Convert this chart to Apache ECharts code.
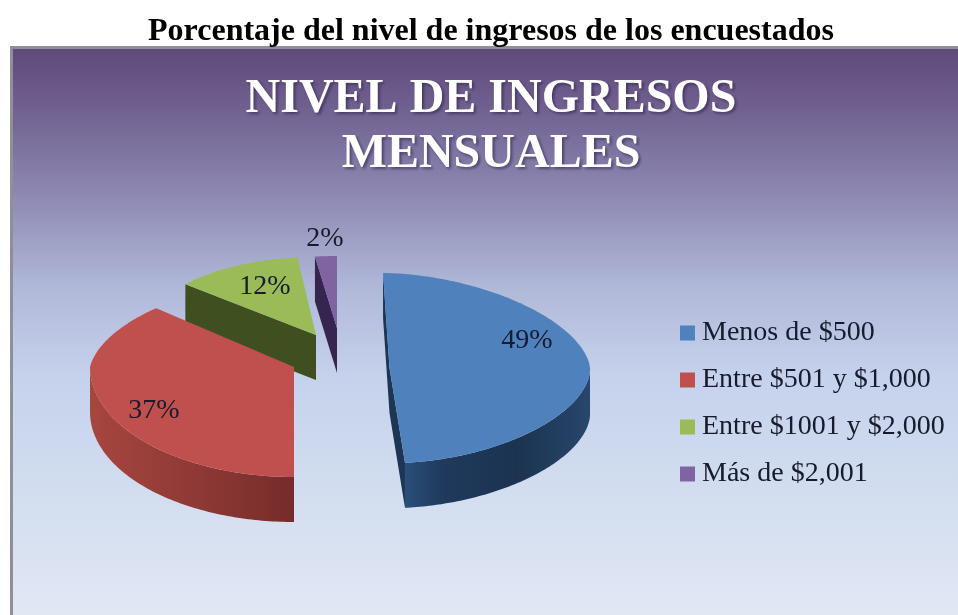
<!DOCTYPE html>
<html><head><meta charset="utf-8">
<style>html,body{margin:0;padding:0;background:#fff}#c{width:958px;height:615px}</style>
<script src="https://cdn.jsdelivr.net/npm/echarts@6/dist/echarts.min.js"></script>
</head><body><div id="c"></div>
<script>
const categories = ['Menos de $500','Entre $501 y $1,000','Entre $1001 y $2,000','Más de $2,001'];
const values = [49,37,12,2];
const pageTitle = 'Porcentaje del nivel de ingresos de los encuestados';
const chartTitle = 'NIVEL DE INGRESOS\nMENSUALES';

const colors = ['#4f81bd','#c0504d','#9bbb59','#8064a2'];
const depth = 45;
// Per-slice projection of the exploded, tilted pie
const layout = [
  {cx:389.5,cy:368,rx:200.5,ryB:95,ryF:95,rot:0,pow:1.12,shear:0.068,lx:527,ly:341,z:4,face:'both',
   side:[[0,'#2a4f7a'],[0.2,'#1f3a5c'],[0.6,'#1c3350'],[1,'#27476c']],faceColor:'#1d3655'},
  {cx:294,cy:367,rx:204,rxB:182,ryB:86,ryF:110,rot:3.6,lx:154,ly:411,z:3,
   side:[[0,'#a8453f'],[0.5,'#8f3a36'],[1,'#762c2a']]},
  {cx:316,cy:335,rx:172,ryB:78,ryF:78,rot:1,lx:265,ly:287,z:2,face:'start',faceColor:'#3f4f20'},
  {cx:337,cy:328,rx:176,ryB:72,ryF:72,rot:0,lx:325,ly:239,z:2,face:'start',faceColor:'#36264f'}
];

const total = values.reduce((a,b)=>a+b,0);
const starts = values.map((_,i)=>values.slice(0,i).reduce((a,b)=>a+b,0)/total*360);
const ink = '#161b2e';

function proj(l,deg){
  const a = deg*Math.PI/180, c0 = Math.cos(a), s0 = Math.sin(a), p = l.pow||1;
  const c = Math.sign(c0)*Math.pow(Math.abs(c0),p), s = Math.sign(s0)*Math.pow(Math.abs(s0),p);
  const rx = l.rxB!==undefined ? l.rx+(l.rxB-l.rx)*Math.max(0,c) : l.rx;
  const dy = c*(c>=0?l.ryB:l.ryF);
  return [l.cx + rx*s - (l.shear||0)*dy, l.cy - dy];
}
function arc(l,a0,a1){
  const p=[], n=Math.max(2,Math.ceil(Math.abs(a1-a0)));
  for(let k=0;k<=n;k++) p.push(proj(l,a0+(a1-a0)*k/n));
  return p;
}
const down = pts => pts.map(p=>[p[0],p[1]+depth]);

function makeSeries(i){
  const l = layout[i];
  return {
    type:'custom', name:categories[i], coordinateSystem:'none', z:l.z,
    itemStyle:{color:colors[i]}, silent:true, clip:false,
    data:[[values[i]]],
    renderItem:(params,api)=>{
      const v = api.value(0);
      const a0 = starts[i]+l.rot, a1 = a0+v/total*360;
      const apex = [l.cx,l.cy];
      const kids = [];
      const poly = (points,fill)=>({type:'polygon',shape:{points},style:{fill}});
      const s = proj(l,a0), e = proj(l,a1);
      if(l.face==='start') kids.push(poly([s,apex,...down([apex,s])],l.faceColor));
      if(l.face==='both') kids.push(poly([s,apex,e,...down([e,apex,s])],l.faceColor));
      const lo = Math.max(a0,90), hi = Math.min(a1,270);
      if(l.side && hi>lo){
        const r = arc(l,lo,hi);
        kids.push(poly([...r,...down(r).reverse()],
          new echarts.graphic.LinearGradient(0,0,1,0,l.side.map(c=>({offset:c[0],color:c[1]})))));
      }
      kids.push(poly([apex,...arc(l,a0,a1)],colors[i]));
      kids.push({type:'text',x:l.lx,y:l.ly,style:{text:v+'%',fill:ink,
        font:'28px "Liberation Serif"',align:'center',verticalAlign:'middle'}});
      return {type:'group',children:kids};
    }
  };
}

const chart = echarts.init(document.getElementById('c'),null,{renderer:'canvas'});
chart.setOption({
  animation:false,
  backgroundColor:'#ffffff',
  graphic:[
    {type:'rect',z:-10,shape:{x:10,y:46,width:948,height:569},style:{fill:'#8f8f9b'}},
    {type:'rect',z:-9,shape:{x:13,y:49,width:945,height:566},style:{fill:new echarts.graphic.LinearGradient(0,0,0,1,[
      {offset:0,color:'#5f4a7c'},{offset:0.1,color:'#6f5f8f'},{offset:0.27,color:'#908cb5'},
      {offset:0.42,color:'#b0b8d8'},{offset:0.58,color:'#c6d2ec'},{offset:0.8,color:'#d3def0'},{offset:1,color:'#e2e7f4'}])}}
  ],
  title:[
    {text:pageTitle,left:486,top:11,textAlign:'center',
     textStyle:{fontFamily:'Liberation Serif',fontWeight:'bold',fontSize:32,color:'#000'}},
    {text:chartTitle,left:486,top:67,textAlign:'center',
     textStyle:{fontFamily:'Liberation Serif',fontWeight:'bold',fontSize:48,lineHeight:55,color:'#fff',
       textShadowColor:'rgba(40,30,70,.6)',textShadowBlur:3,textShadowOffsetX:2,textShadowOffsetY:2}}
  ],
  legend:{
    orient:'vertical',left:680,top:319,padding:0,itemWidth:15,itemHeight:15,itemGap:19,icon:'rect',selectedMode:false,
    data:categories,
    textStyle:{fontFamily:'Liberation Serif',fontSize:28,color:ink,lineHeight:28,padding:[0,0,0,2]}
  },
  series:values.map((_,i)=>makeSeries(i))
});
</script></body></html>
